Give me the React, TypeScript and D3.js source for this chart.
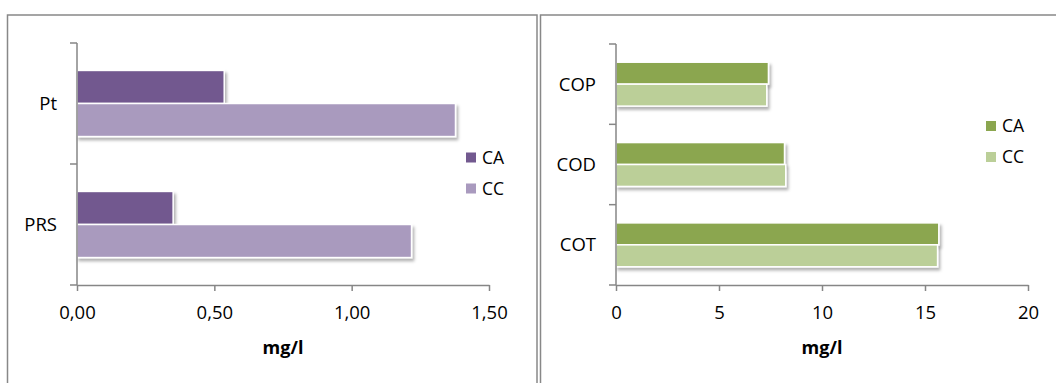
import * as d3 from "d3";
import React, {useEffect, useRef} from "react";

// left panel
const leftCategories = ["Pt", "PRS"];
const leftCA = [0.536, 0.350];
const leftCC = [1.378, 1.218];
const leftTicks = [0, 0.5, 1, 1.5];

// right panel
const rightCategories = ["COP", "COD", "COT"];
const rightCA = [7.40, 8.18, 15.67];
const rightCC = [7.32, 8.24, 15.61];
const rightTicks = [0, 5, 10, 15, 20];

const seriesNames = ["CA", "CC"];
const FONT = "'Open Sans', sans-serif";

interface PanelOpts {
  left: number
  right: number
  top: number
  bottom: number
  categories: string[]
  ca: number[]
  cc: number[]
  ticks: number[]
  fmt: (d: number) => string
  colors: string[]
  legendX: number
  legendY: number
}

const drawPanel = (svg: d3.Selection<SVGSVGElement, unknown, null, undefined>, o: PanelOpts) => {
  const axisColor = "#868686";
  const g = svg.append("g");

  const x = d3.scaleLinear()
    .domain([o.ticks[0], o.ticks[o.ticks.length - 1]])
    .range([o.left, o.right]);
  const y = d3.scaleBand<string>()
    .domain(o.categories)
    .range([o.top, o.bottom])
    .padding(0);
  const inner = d3.scaleBand<string>()
    .domain(seriesNames)
    .range([0, y.bandwidth()])
    .paddingInner(0)
    .paddingOuter(0.83);

  const rows = o.categories.flatMap((c, i) => [
    {cat: c, key: "CA", value: o.ca[i], color: o.colors[0]},
    {cat: c, key: "CC", value: o.cc[i], color: o.colors[1]},
  ]);

  g.selectAll(".bar")
    .data(rows)
    .enter().append("rect")
    .attr("class", "bar")
    .attr("x", x(0))
    .attr("y", d => y(d.cat)! + inner(d.key)!)
    .attr("width", d => x(d.value) - x(0))
    .attr("height", inner.bandwidth())
    .attr("fill", d => d.color)
    .attr("stroke", "#fff")
    .attr("stroke-width", 1.5)
    .attr("filter", "url(#shadow)");

  // x axis
  const xAxis = g.append("g")
    .attr("transform", `translate(0,${o.bottom})`)
    .call(d3.axisBottom(x).tickValues(o.ticks).tickFormat(d => o.fmt(d as number)).tickSize(6).tickSizeOuter(0).tickPadding(15));
  xAxis.select(".domain").attr("stroke", axisColor).attr("stroke-width", 1.5);
  xAxis.selectAll(".tick line").attr("stroke", axisColor).attr("stroke-width", 1.5);
  xAxis.selectAll(".tick text")
    .attr("fill", "#000")
    .style("font-family", FONT)
    .style("font-size", "18.5px");

  g.append("text")
    .attr("x", (o.left + o.right) / 2)
    .attr("y", o.bottom + 69)
    .attr("text-anchor", "middle")
    .style("font-family", FONT)
    .style("font-size", "18px")
    .style("font-weight", "bold")
    .text("mg/l");

  // y axis with ticks on band edges
  g.append("line")
    .attr("x1", o.left).attr("x2", o.left)
    .attr("y1", o.top).attr("y2", o.bottom)
    .attr("stroke", axisColor).attr("stroke-width", 1.5);
  const edges = [...o.categories.map(c => y(c)!), o.bottom];
  g.selectAll(".ytick")
    .data(edges)
    .enter().append("line")
    .attr("x1", o.left - 7).attr("x2", o.left)
    .attr("y1", d => d).attr("y2", d => d)
    .attr("stroke", axisColor).attr("stroke-width", 1.5);
  g.selectAll(".ylabel")
    .data(o.categories)
    .enter().append("text")
    .attr("x", o.left - 20)
    .attr("y", d => y(d)! + y.bandwidth() / 2)
    .attr("dy", "0.35em")
    .attr("text-anchor", "end")
    .style("font-family", FONT)
    .style("font-size", "18.5px")
    .text(d => d);

  // legend
  const leg = g.selectAll(".leg")
    .data(seriesNames)
    .enter().append("g")
    .attr("transform", (_, i) => `translate(${o.legendX},${o.legendY + i * 31})`);
  leg.append("rect")
    .attr("width", 10).attr("height", 10)
    .attr("fill", (_, i) => o.colors[i]);
  leg.append("text")
    .attr("x", 16)
    .attr("y", 5)
    .attr("dy", "0.36em")
    .style("font-family", FONT)
    .style("font-size", "17.5px")
    .text(d => d);
};

const App: React.FC = () => {
  const svgRef = useRef<SVGSVGElement | null>(null);

  useEffect(() => {
    if (!svgRef.current) {
      return
    }
    const svg = d3.select(svgRef.current);
    svg.selectAll("*").remove();

    const defs = svg.append("defs");
    defs.append("filter")
      .attr("id", "shadow")
      .attr("x", "-5%").attr("y", "-20%")
      .attr("width", "115%").attr("height", "160%")
      .append("feDropShadow")
      .attr("dx", 2).attr("dy", 3)
      .attr("stdDeviation", 1.6)
      .attr("flood-color", "#000")
      .attr("flood-opacity", 0.3);

    // panel frames
    svg.append("rect")
      .attr("x", 7.5).attr("y", 15)
      .attr("width", 529.5).attr("height", 400)
      .attr("fill", "#fff").attr("stroke", "#888").attr("stroke-width", 1.5);
    svg.append("rect")
      .attr("x", 540.5).attr("y", 15)
      .attr("width", 540).attr("height", 400)
      .attr("fill", "#fff").attr("stroke", "#888").attr("stroke-width", 1.5);

    drawPanel(svg, {
      left: 77, right: 489, top: 43, bottom: 285,
      categories: leftCategories, ca: leftCA, cc: leftCC, ticks: leftTicks,
      fmt: d => d3.format(".2f")(d).replace(".", ","),
      colors: ["#72598f", "#a99abe"],
      legendX: 466, legendY: 152.5,
    });

    drawPanel(svg, {
      left: 616, right: 1028, top: 44, bottom: 285,
      categories: rightCategories, ca: rightCA, cc: rightCC, ticks: rightTicks,
      fmt: d => String(d),
      colors: ["#8ba64f", "#bbcf98"],
      legendX: 986, legendY: 121,
    });
  }, []);

  return (
    <svg
      ref={svgRef}
      width={1056}
      height={383}
      style={{position: "absolute", left: 0, top: 0, background: "#fff"}}
    />
  );
}

export default App;
